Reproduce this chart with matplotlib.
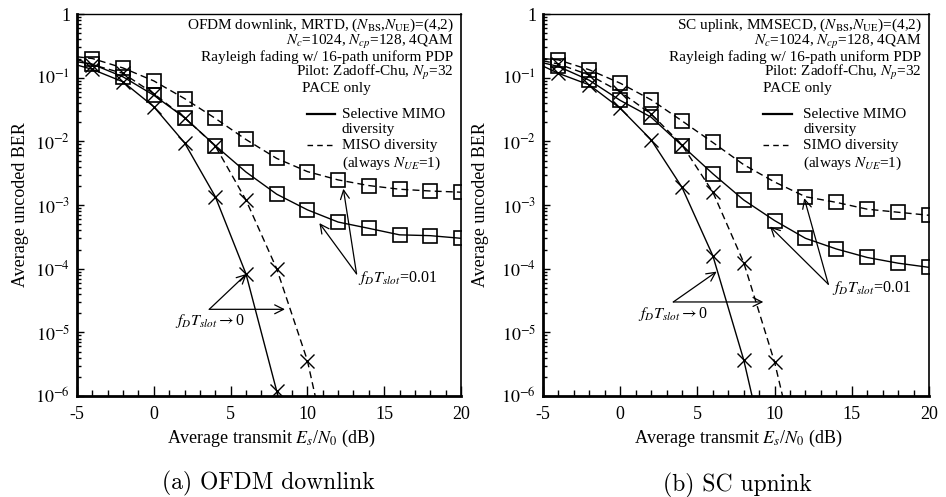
"""BER vs Es/N0: selective MIMO diversity vs MISO/SIMO diversity"""

import matplotlib
matplotlib.use("Agg")
import matplotlib.pyplot as plt
from matplotlib.ticker import FixedLocator, MultipleLocator, LogLocator, NullFormatter

plt.rcParams['font.family'] = 'serif'
plt.rcParams['font.serif'] = ['Liberation Serif', 'DejaVu Serif']
plt.rcParams['mathtext.fontset'] = 'stix'
plt.rcParams['axes.unicode_minus'] = False

# ---- data ----
snr_sq = [-4, -2, 0, 2, 4, 6, 8, 10, 12, 14, 16, 18, 20]
snr_x_mimo = [-4, -2, 0, 2, 4, 6, 8]
snr_x_div = [-4, -2, 0, 2, 4, 6, 8, 10]

# (a) OFDM downlink
ofdm_mimo_sq = [0.163, 0.103, 0.053, 0.0236, 0.0086, 0.0033, 0.00148, 0.00084, 0.00054, 0.00043, 0.00034, 0.00033, 0.0003]
ofdm_miso_sq = [0.20, 0.142, 0.089, 0.047, 0.023, 0.0107, 0.0054, 0.00335, 0.00248, 0.00202, 0.00177, 0.00166, 0.00159]
ofdm_mimo_x = [0.135, 0.086, 0.035, 0.0095, 0.00136, 8.3e-5, 1.2e-6]
ofdm_miso_x = [0.16, 0.117, 0.056, 0.0236, 0.0085, 0.0012, 1.0e-4, 3.6e-6]
# curve values at the left edge (-5 dB) and where curves leave the plot
ofdm_start = {'mimo_sq': 0.178, 'miso_sq': 0.213, 'mimo_x': 0.158, 'miso_x': 0.194}
ofdm_tail = {'mimo_x': (9, 1.4e-7), 'miso_x': (11, 2.9e-7)}

# (b) SC uplink
sc_mimo_sq = [0.15, 0.091, 0.044, 0.024, 0.0086, 0.0031, 0.0012, 0.00057, 0.0003, 0.000204, 0.00015, 0.000122, 0.000105]
sc_simo_sq = [0.19, 0.133, 0.082, 0.045, 0.021, 0.0096, 0.0043, 0.0023, 0.00135, 0.0011, 0.00086, 0.00077, 0.00069]
sc_mimo_x = [0.117, 0.077, 0.033, 0.0106, 0.0019, 1.6e-4, 3.7e-6]
sc_simo_x = [0.164, 0.11, 0.06, 0.027, 0.0088, 0.0016, 1.25e-4, 3.4e-6]
sc_start = {'mimo_sq': 0.171, 'miso_sq': 0.20, 'mimo_x': 0.152, 'miso_x': 0.184}
sc_tail = {'mimo_x': (9, 3.3e-7), 'miso_x': (11, 3.2e-7)}

ytick_vals = [1e-6, 1e-5, 1e-4, 1e-3, 1e-2, 1e-1, 1]
ytick_labels = ['$10^{-6}$', '$10^{-5}$', '$10^{-4}$', '$10^{-3}$', '$10^{-2}$', '$10^{-1}$', '1']
xtick_vals = [-5, 0, 5, 10, 15, 20]
xtick_labels = ['-5', '0', '5', '10', '15', '20']


def draw_curve(ax, xs, ys, start, tail, dashed, marker):
    lx = [-5] + list(xs)
    ly = [start] + list(ys)
    if tail is not None:
        lx.append(tail[0])
        ly.append(tail[1])
    if dashed:
        ax.plot(lx, ly, color='k', lw=1.0, dashes=(5, 3))
    else:
        ax.plot(lx, ly, color='k', lw=1.0)
    if marker == 's':
        ax.plot(xs, ys, ls='none', marker='s', ms=10.5, mfc='none', mec='k', mew=1.2)
    else:
        ax.plot(xs, ys, ls='none', marker='x', ms=9.5, mec='k', mew=1.0)


def panel(ax, d, start, tail, header, div_label, pace_x, leg_x0, leg_x1, leg_tx):
    draw_curve(ax, snr_sq, d[0], start['mimo_sq'], None, False, 's')
    draw_curve(ax, snr_sq, d[1], start['miso_sq'], None, True, 's')
    draw_curve(ax, snr_x_mimo, d[2], start['mimo_x'], tail['mimo_x'], False, 'x')
    draw_curve(ax, snr_x_div, d[3], start['miso_x'], tail['miso_x'], True, 'x')

    ax.set_yscale('log')
    ax.set_xlim(-5, 20)
    ax.set_ylim(1e-6, 1)
    ax.yaxis.set_major_locator(FixedLocator(ytick_vals))
    ax.set_yticklabels(ytick_labels)
    ax.yaxis.set_minor_locator(LogLocator(base=10, subs=range(2, 10), numticks=20))
    ax.yaxis.set_minor_formatter(NullFormatter())
    ax.set_xticks(xtick_vals)
    ax.set_xticklabels(xtick_labels)
    ax.xaxis.set_minor_locator(MultipleLocator(1))
    ax.tick_params(which='both', direction='in', top=False, right=False, labelsize=13, width=1.0)
    ax.tick_params(axis='y', which='major', length=5, pad=5)
    ax.tick_params(axis='y', which='minor', length=3)
    ax.tick_params(axis='x', which='major', length=7, pad=7)
    ax.tick_params(axis='x', which='minor', length=4)
    ax.spines['left'].set_linewidth(2)
    ax.spines['bottom'].set_linewidth(2)
    ax.spines['top'].set_linewidth(1)
    ax.spines['right'].set_linewidth(1.2)

    ax.set_ylabel('Average uncoded BER', fontsize=13)
    ax.set_xlabel('Average transmit $E_s$/$N_0$ (dB)', fontsize=13)

    ys = [0.971, 0.927, 0.887, 0.846]
    for y, s in zip(ys, header):
        ax.text(0.981, y, s, transform=ax.transAxes, ha='right', va='center', fontsize=11)
    ax.text(pace_x, 0.806, 'PACE only', transform=ax.transAxes, ha='left', va='center', fontsize=11)

    # legend keys
    ax.plot([leg_x0, leg_x1], [0.738, 0.738], transform=ax.transAxes, color='k', lw=1.6)
    ax.plot([leg_x0, leg_x1], [0.656, 0.656], transform=ax.transAxes, color='k', lw=1.0, dashes=(4, 3))
    ax.text(leg_tx, 0.738, 'Selective MIMO', transform=ax.transAxes, ha='left', va='center', fontsize=11)
    ax.text(leg_tx, 0.698, 'diversity', transform=ax.transAxes, ha='left', va='center', fontsize=11)
    ax.text(leg_tx, 0.656, div_label, transform=ax.transAxes, ha='left', va='center', fontsize=11)
    ax.text(leg_tx, 0.610, '(always $N_{UE}$=1)', transform=ax.transAxes, ha='left', va='center', fontsize=11)


fig = plt.figure(figsize=(9.46, 4.97), dpi=100)
ax1 = fig.add_axes([0.0814, 0.2032, 0.4059, 0.7686])
ax2 = fig.add_axes([0.574, 0.2032, 0.408, 0.7686])

panel(ax1, [ofdm_mimo_sq, ofdm_miso_sq, ofdm_mimo_x, ofdm_miso_x], ofdm_start, ofdm_tail,
      ['OFDM downlink, MRTD, ($N_{\\rm BS}$,$N_{\\rm UE}$)=(4,2)',
       '$N_c$=1024, $N_{cp}$=128, 4QAM',
       'Rayleigh fading w/ 16-path uniform PDP',
       'Pilot: Zadoff-Chu, $N_p$=32'],
      'MISO diversity', 0.586, 0.60, 0.672, 0.69)
panel(ax2, [sc_mimo_sq, sc_simo_sq, sc_mimo_x, sc_simo_x], sc_start, sc_tail,
      ['SC uplink, MMSECD, ($N_{\\rm BS}$,$N_{\\rm UE}$)=(4,2)',
       '$N_c$=1024, $N_{cp}$=128, 4QAM',
       'Rayleigh fading w/ 16-path uniform PDP',
       'Pilot: Zadoff-Chu, $N_p$=32'],
      'SIMO diversity', 0.57, 0.57, 0.645, 0.674)

ax1.yaxis.set_label_coords(-0.124, 0.5)
ax2.yaxis.set_label_coords(-0.139, 0.5)
ax1.xaxis.set_label_coords(0.505, -0.083)
ax2.xaxis.set_label_coords(0.505, -0.083)

arrow = dict(arrowstyle='->', lw=0.9, color='k', shrinkA=0, shrinkB=0, mutation_scale=16)

# (a) annotations
for tgt in [(10.78, 5.2e-4), (12.34, 1.8e-3)]:
    ax1.annotate('', xy=tgt, xytext=(13.2, 8.3e-5), arrowprops=arrow)
ax1.text(13.3, 7.2e-5, '$f_DT_{slot}$=0.01', ha='left', va='center', fontsize=11.5)
for tgt in [(6.05, 8.3e-5), (8.54, 2.3e-5)]:
    ax1.annotate('', xy=tgt, xytext=(3.61, 2.3e-5), arrowprops=arrow)
ax1.text(1.38, 1.5e-5, '$f_DT_{slot}$$\\rightarrow$0', ha='left', va='center', fontsize=11.5)

# (b) annotations
for tgt in [(9.70, 4.6e-4), (11.92, 1.28e-3)]:
    ax2.annotate('', xy=tgt, xytext=(13.48, 5.7e-5), arrowprops=arrow)
ax2.text(13.7, 5.0e-5, '$f_DT_{slot}$=0.01', ha='left', va='center', fontsize=11.5)
for tgt in [(6.25, 9e-5), (9.27, 3e-5)]:
    ax2.annotate('', xy=tgt, xytext=(3.44, 3e-5), arrowprops=arrow)
ax2.text(1.17, 1.95e-5, '$f_DT_{slot}$$\\rightarrow$0', ha='left', va='center', fontsize=11.5)

fig.text(0.284, 0.028, '(a) OFDM downlink', family='cmr10', fontsize=17, ha='center', va='center')
fig.text(0.779, 0.024, '(b) SC upnink', family='cmr10', fontsize=17, ha='center', va='center')

fig.savefig('out.png', dpi=100)
